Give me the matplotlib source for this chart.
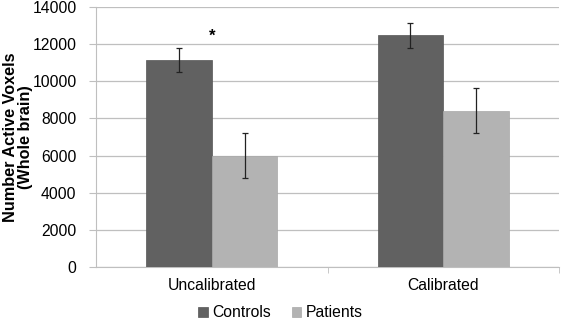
import numpy as np
import matplotlib.pyplot as plt

plt.rcParams['font.family'] = ['Liberation Sans', 'DejaVu Sans']

# data
conditions = ['Uncalibrated', 'Calibrated']
groups = ['Controls', 'Patients']
controls_mean = [11150, 12470]
controls_err = [650, 665]
patients_mean = [5990, 8420]
patients_err = [1210, 1215]
yticks = [0, 2000, 4000, 6000, 8000, 10000, 12000, 14000]

CTRL_COLOR = '#616161'
PAT_COLOR = '#b3b3b3'
GRID_COLOR = '#bfbfbf'
FS = 11.3

fig = plt.figure(figsize=(5.61, 3.21), dpi=100)
ax = fig.add_axes([96 / 561, 54 / 321, 463 / 561, 260 / 321])

x = np.arange(len(conditions))
w = 0.283
errkw = dict(ecolor='#222222', elinewidth=0.9, capsize=2.5, capthick=0.9)
ax.bar(x - w / 2, controls_mean, w, yerr=controls_err, color=CTRL_COLOR,
       edgecolor='#555555', linewidth=0.5, label=groups[0], error_kw=errkw, zorder=3)
ax.bar(x + w / 2, patients_mean, w, yerr=patients_err, color=PAT_COLOR,
       edgecolor='#a8a8a8', linewidth=0.5, label=groups[1], error_kw=errkw, zorder=3)

# significance marker
ax.text(x[0], 12400, '*', ha='center', va='center', fontsize=12, fontweight='bold')

ax.set_xlim(-0.5, 1.5)
ax.set_ylim(0, 14000)
ax.set_yticks(yticks)
ax.set_yticklabels([str(t) for t in yticks], fontsize=FS)
ax.set_xticks(x)
ax.set_xticklabels(conditions, fontsize=FS)
ax.set_xticks([0.5, 1.5], minor=True)
ax.tick_params(axis='x', which='major', length=0, pad=8)
ax.tick_params(axis='x', which='minor', length=4, color=GRID_COLOR, direction='out')
ax.tick_params(axis='y', length=5, color=GRID_COLOR, direction='out', pad=9)

ax.yaxis.grid(True, color=GRID_COLOR, linewidth=0.9, zorder=0)
ax.set_axisbelow(True)
for side in ['top', 'right']:
    ax.spines[side].set_visible(False)
ax.spines['left'].set_color(GRID_COLOR)
ax.spines['bottom'].set_color(GRID_COLOR)

ax.set_ylabel('Number Active Voxels\n(Whole brain)', fontsize=11.7, fontweight='bold',
              linespacing=1.0)
ax.yaxis.set_label_coords(-0.135, 0.5)

fig.legend(loc='center', bbox_to_anchor=(0.5, 0.025), ncol=2, frameon=False,
           fontsize=FS, handlelength=0.6, handleheight=0.6, handletextpad=0.3,
           columnspacing=1.3, borderpad=0.1)

fig.savefig('out.png', dpi=100)
